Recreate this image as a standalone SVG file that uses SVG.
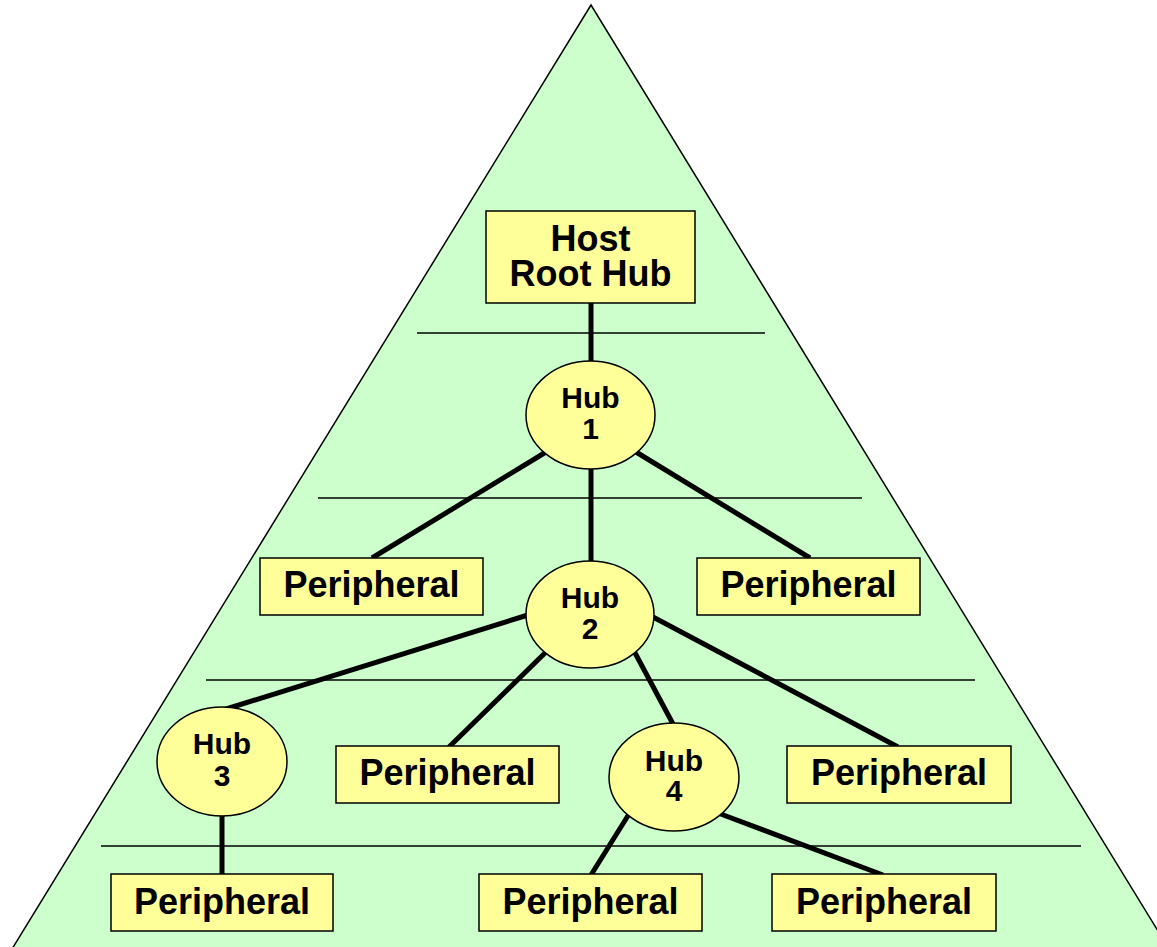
<svg xmlns="http://www.w3.org/2000/svg" width="1157" height="947" viewBox="0 0 1157 947">
<style>
.box{fill:#FFFF99;stroke:#000;stroke-width:1.5}
.hub{fill:#FFFF99;stroke:#000;stroke-width:1.5}
.t{font-family:"Liberation Sans",Arial,sans-serif;font-weight:bold;font-size:36px;text-anchor:middle;fill:#000}
.th{font-family:"Liberation Sans",Arial,sans-serif;font-weight:bold;font-size:30px;text-anchor:middle;fill:#000}
.tier{stroke:#000;stroke-width:1.5}
.conn{stroke:#000;stroke-width:5;fill:none}
</style>
<rect width="1157" height="947" fill="#fff"/>
<polygon points="591,5 12,949 1169,949" fill="#CCFFCC" stroke="#000" stroke-width="1.5"/>
<g id="tiers">
<line class="tier" x1="417" y1="333" x2="765" y2="333"/>
<line class="tier" x1="318" y1="498" x2="862" y2="498"/>
<line class="tier" x1="206" y1="680" x2="975" y2="680"/>
<line class="tier" x1="101" y1="846" x2="1081" y2="846"/>
</g>
<g id="connectors">
<line class="conn" x1="591" y1="303" x2="591" y2="361"/>
<line class="conn" x1="546" y1="452" x2="372" y2="558"/>
<line class="conn" x1="591" y1="469" x2="591" y2="561"/>
<line class="conn" x1="636" y1="452" x2="810" y2="558"/>
<line class="conn" x1="528" y1="615" x2="223" y2="710"/>
<line class="conn" x1="547" y1="651" x2="449" y2="747"/>
<line class="conn" x1="634" y1="651" x2="673" y2="724"/>
<line class="conn" x1="653" y1="617" x2="898" y2="747"/>
<line class="conn" x1="222" y1="816" x2="222" y2="874"/>
<line class="conn" x1="629" y1="814" x2="591" y2="875"/>
<line class="conn" x1="718" y1="813" x2="883" y2="875"/>
</g>
<g id="host">
<rect class="box" x="486" y="211" width="209" height="92"/>
<text class="t" x="590.5" y="251">Host</text>
<text class="t" x="590.5" y="286">Root Hub</text>
</g>
<g id="hub1">
<ellipse class="hub" cx="590.5" cy="415" rx="64.5" ry="54"/>
<text class="th" x="590.5" y="408">Hub</text>
<text class="th" x="590.5" y="439">1</text>
</g>
<g id="periph1">
<rect class="box" x="260" y="558" width="223" height="57"/>
<text class="t" x="371.5" y="597">Peripheral</text>
</g>
<g id="periph2">
<rect class="box" x="697" y="558" width="223" height="57"/>
<text class="t" x="808.5" y="597">Peripheral</text>
</g>
<g id="hub2">
<ellipse class="hub" cx="590" cy="614.5" rx="64" ry="53.5"/>
<text class="th" x="590" y="608">Hub</text>
<text class="th" x="590" y="639">2</text>
</g>
<g id="hub3">
<ellipse class="hub" cx="222" cy="761.5" rx="65" ry="54.5"/>
<text class="th" x="222" y="754">Hub</text>
<text class="th" x="222" y="786">3</text>
</g>
<g id="periph3">
<rect class="box" x="336" y="746" width="223" height="57"/>
<text class="t" x="447.5" y="785">Peripheral</text>
</g>
<g id="hub4">
<ellipse class="hub" cx="674" cy="777" rx="65" ry="54"/>
<text class="th" x="674" y="771">Hub</text>
<text class="th" x="674" y="801">4</text>
</g>
<g id="periph4">
<rect class="box" x="787" y="746" width="224" height="57"/>
<text class="t" x="899" y="785">Peripheral</text>
</g>
<g id="periph5">
<rect class="box" x="111" y="874" width="222" height="57"/>
<text class="t" x="222" y="914">Peripheral</text>
</g>
<g id="periph6">
<rect class="box" x="479" y="874" width="223" height="57"/>
<text class="t" x="590.5" y="914">Peripheral</text>
</g>
<g id="periph7">
<rect class="box" x="772" y="874" width="224" height="57"/>
<text class="t" x="884" y="914">Peripheral</text>
</g>
</svg>
